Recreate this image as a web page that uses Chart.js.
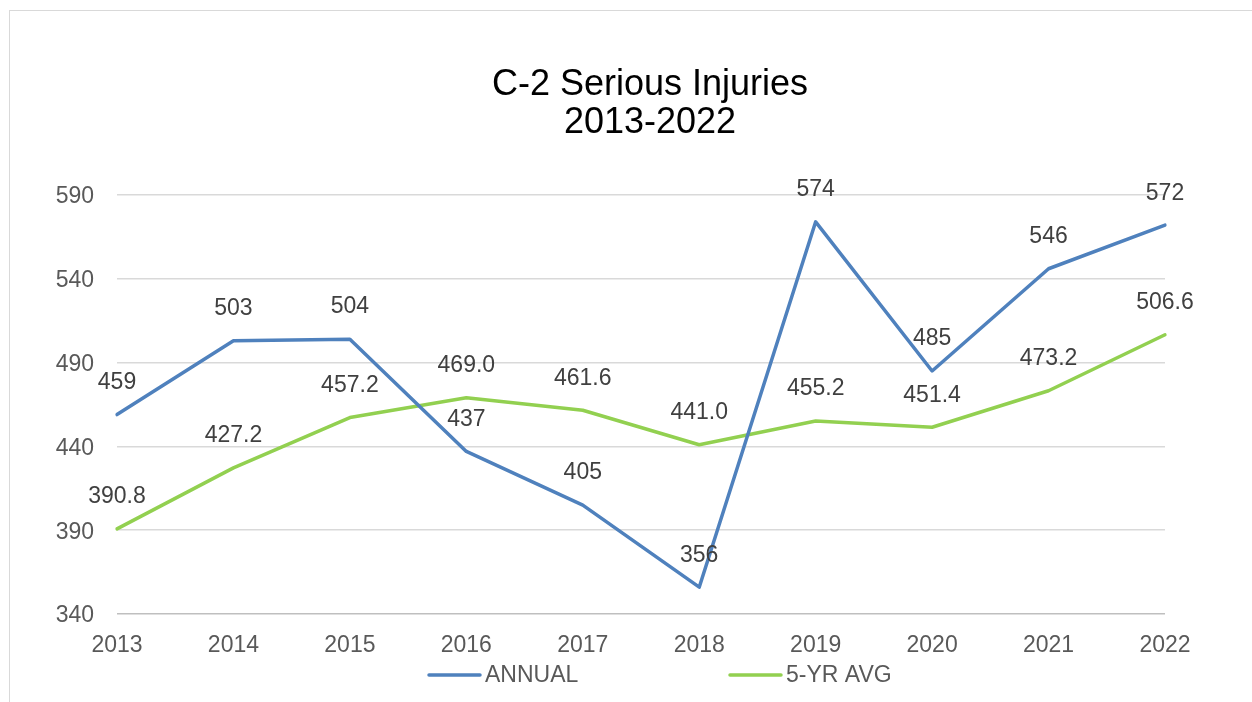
<!DOCTYPE html>
<html>
<head>
<meta charset="utf-8">
<script src="https://cdn.jsdelivr.net/npm/chart.js@4/dist/chart.umd.min.js"></script>
<style>
  html, body { margin: 0; padding: 0; background: #fff; overflow: hidden; }
  #wrap { position: relative; width: 1252px; height: 702px; }
  #frame { position: absolute; left: 9px; top: 10px; width: 1300px; height: 800px;
           border-left: 1.5px solid #d9d9d9; border-top: 1.5px solid #d9d9d9; }
  canvas { position: absolute; left: 0; top: 0; }
</style>
</head>
<body>
<div id="wrap">
  <div id="frame"></div>
  <canvas id="c" width="1252" height="702"></canvas>
</div>
<script>
const years = ['2013','2014','2015','2016','2017','2018','2019','2020','2021','2022'];
const annual = [459, 503, 504, 437, 405, 356, 574, 485, 546, 572];
const fiveYrAvg = [390.8, 427.2, 457.2, 469.0, 461.6, 441.0, 455.2, 451.4, 473.2, 506.6];
const yTicks = [340, 390, 440, 490, 540, 590];
const titleLines = ['C-2 Serious Injuries', '2013-2022'];
const seriesNames = ['ANNUAL', '5-YR AVG'];
const labelDecimals = [0, 1];

const FONT = '"Liberation Sans", Arial, sans-serif';

const decorPlugin = {
  id: 'decor',
  afterDatasetsDraw(chart) {
    const ctx = chart.ctx;
    ctx.save();
    // data labels
    ctx.font = '23px ' + FONT;
    ctx.fillStyle = '#404040';
    ctx.textAlign = 'center';
    ctx.textBaseline = 'middle';
    chart.data.datasets.forEach((ds, di) => {
      const meta = chart.getDatasetMeta(di);
      meta.data.forEach((pt, i) => {
        ctx.fillText(ds.data[i].toFixed(labelDecimals[di]), pt.x, pt.y - 32);
      });
    });
    // title
    ctx.fillStyle = '#000000';
    ctx.font = '36px ' + FONT;
    ctx.fillText(titleLines[0], 650, 85);
    ctx.fillText(titleLines[1], 650, 123);
    // legend
    const legendItems = [
      { x: 429, ds: chart.data.datasets[0] },
      { x: 730, ds: chart.data.datasets[1] }
    ];
    ctx.font = '23px ' + FONT;
    ctx.textAlign = 'left';
    legendItems.forEach(item => {
      ctx.strokeStyle = item.ds.borderColor;
      ctx.lineWidth = 3.5;
      ctx.lineCap = 'round';
      ctx.beginPath();
      ctx.moveTo(item.x, 675);
      ctx.lineTo(item.x + 51, 675);
      ctx.stroke();
      ctx.fillStyle = '#595959';
      ctx.fillText(item.ds.label, item.x + 56, 676);
    });
    ctx.restore();
  }
};

new Chart(document.getElementById('c'), {
  type: 'line',
  data: {
    labels: years,
    datasets: [
      { label: seriesNames[0], data: annual, borderColor: '#4f81bd', backgroundColor: '#4f81bd',
        borderWidth: 3.5, pointRadius: 0, tension: 0, borderJoinStyle: 'round', borderCapStyle: 'round' },
      { label: seriesNames[1], data: fiveYrAvg, borderColor: '#92d050', backgroundColor: '#92d050',
        borderWidth: 3.5, pointRadius: 0, tension: 0, borderJoinStyle: 'round', borderCapStyle: 'round' }
    ]
  },
  options: {
    responsive: false,
    animation: false,
    events: [],
    layout: { padding: { top: 195, left: 17, right: 87, bottom: 0 } },
    plugins: { legend: { display: false }, title: { display: false }, tooltip: { enabled: false } },
    scales: {
      x: {
        offset: false,
        grid: { display: false, drawTicks: false },
        border: { display: false },
        ticks: { color: '#595959', font: { family: FONT, size: 23 }, padding: 18, maxRotation: 0, autoSkip: false },
        afterFit(scale) { scale.height = 88; }
      },
      y: {
        min: yTicks[0], max: yTicks[yTicks.length - 1],
        afterBuildTicks(scale) { scale.ticks = yTicks.map(v => ({ value: v })); },
        grid: {
          drawTicks: false, lineWidth: 1.5,
          color: ctx => (ctx.tick && ctx.tick.value === yTicks[0]) ? '#bfbfbf' : '#d9d9d9'
        },
        border: { display: false },
        ticks: { color: '#595959', font: { family: FONT, size: 23 }, padding: 23, labelOffset: 2 },
        afterFit(scale) { scale.width = 100; }
      }
    }
  },
  plugins: [decorPlugin]
});
</script>
</body>
</html>
